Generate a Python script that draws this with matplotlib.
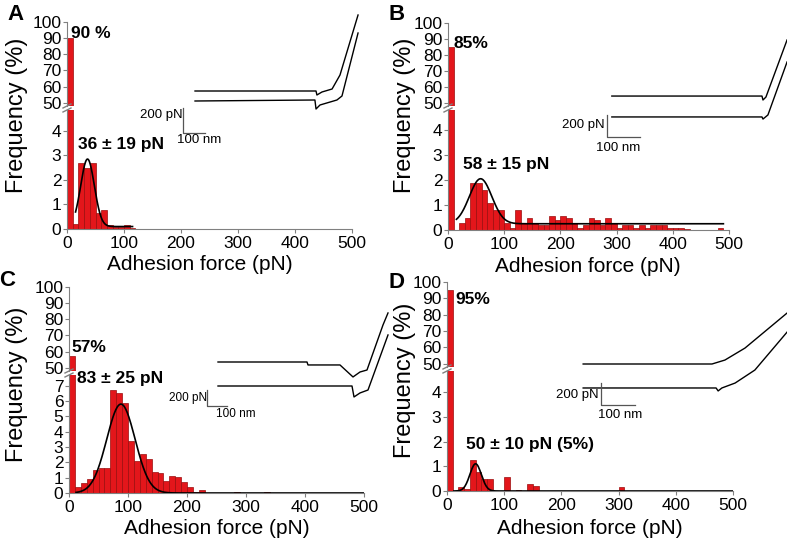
import numpy as np
import matplotlib
matplotlib.use('Agg')
import matplotlib.pyplot as plt

plt.rcParams['font.family'] = ['Liberation Sans', 'DejaVu Sans']

W, H = 787, 544
fig = plt.figure(figsize=(W / 100, H / 100), dpi=100)

# ---------------- data ----------------
BIN = 10  # pN bin width
# frequencies (%) per 10 pN bin, first bin = no adhesion
freq_A = [90, 0.2, 2.7, 2.5, 2.7, 0.65, 0.78, 0.15, 0.1, 0.1, 0.15, 0.05]
freq_B = [85, 0, 0.3, 0.47, 1.9, 1.9, 1.6, 1.1, 0.8, 0.8,
          0.3, 0.1, 0.8, 0.3, 0.5, 0.3, 0.2, 0.2, 0.56, 0.4,
          0.56, 0.47, 0.3, 0.1, 0.2, 0.47, 0.4, 0.2, 0.47, 0.3,
          0.1, 0.2, 0.2, 0.1, 0.2, 0.1, 0.2, 0.2, 0.2, 0.1,
          0.1, 0.1, 0.05, 0, 0, 0, 0, 0, 0.1]
freq_C = [57, 0.37, 0.65, 0.93, 1.48, 1.6, 1.6, 6.74, 6.5, 5.9,
          3.37, 2.06, 2.54, 2.2, 1.4, 1.3, 0.76, 1.1, 1.04, 0.7,
          0.37, 0.05, 0.17, 0.03, 0, 0, 0, 0, 0.05, 0,
          0, 0, 0, 0.05]
freq_D = [95, 0, 0.16, 0.1, 1.25, 0.77, 0.47, 0.47, 0, 0,
          0.57, 0, 0.05, 0, 0.27, 0.19, 0, 0, 0, 0,
          0, 0, 0, 0, 0, 0, 0, 0, 0, 0, 0.16]

# Gaussian fits: (offset, amplitude, mean, sigma, x_start, x_end)
fit_A = (0.1, 2.75, 36, 12, 15, 115)
fit_B = (0.25, 1.8, 58, 20, 15, 490)
fit_C = (0.0, 5.8, 88, 24, 12, 500)
fit_D = (0.0, 1.1, 50, 10, 12, 500)

label_pct = {'A': '90 %', 'B': '85%', 'C': '57%', 'D': '95%'}
label_fit = {'A': '36 ± 19 pN', 'B': '58 ± 15 pN', 'C': '83 ± 25 pN',
             'D': '50 ± 10 pN (5%)'}

xticks = [0, 100, 200, 300, 400, 500]
top_ticks = [50, 60, 70, 80, 90, 100]

# force-distance traces for insets (nm, pN)
A_up_nm = [91, 641, 645, 668, 714, 750, 832]
A_up_pN = [392, 392, 360, 384, 408, 520, 1000]
A_lo_nm = [91, 636, 641, 659, 736, 759, 832]
A_lo_pN = [312, 320, 248, 280, 320, 352, 856]

B_up_nm = [51, 506, 509, 518, 582]
B_up_pN = [445, 445, 409, 436, 955]
B_lo_nm = [51, 506, 509, 524, 582]
B_lo_pN = [255, 255, 236, 273, 755]

C_up_nm = [115, 560, 565, 725, 790, 825, 860, 940, 965]
C_up_pN = [725, 725, 688, 688, 538, 600, 625, 1188, 1338]
C_lo_nm = [115, 785, 795, 825, 865, 965]
C_lo_pN = [425, 425, 288, 338, 375, 1063]

D_up_nm = [24, 403, 441, 500, 624]
D_up_pN = [600, 600, 636, 745, 1064]
D_lo_nm = [24, 415, 421, 432, 471, 529, 624]
D_lo_pN = [382, 382, 355, 382, 427, 545, 891]

RED = '#e3161b'
EDGE = '#9a0d0d'
GREY = '#808080'


def ax_px(l, t, r, b):
    return fig.add_axes([l / W, 1 - b / H, (r - l) / W, (b - t) / H])


def ftext(x, y, s, **kw):
    fig.text(x / W, 1 - y / H, s, **kw)


def panel(letter, x0, x1, tt, tb, bt, bb, bot_max, bot_ticks, freq, fit,
          letter_xy, ylab_xy, xlab_xy, pct_xy, fit_xy, fit_size=12.5):
    axT = ax_px(x0, tt, x1, tb)
    axB = ax_px(x0, bt, x1, bb)
    edges = np.arange(len(freq)) * BIN
    for ax in (axT, axB):
        ax.bar(edges, freq, width=BIN, align='edge', color=RED,
               edgecolor=EDGE, linewidth=0.5, zorder=2)
        ax.set_xlim(0, 500)
        ax.patch.set_alpha(0)
        for s in ('top', 'right'):
            ax.spines[s].set_visible(False)
        ax.spines['left'].set_color(GREY)
        ax.spines['bottom'].set_color(GREY)
        ax.tick_params(axis='both', direction='out', length=3, width=0.8,
                       color=GREY, labelsize=12.5, pad=1)
    axT.spines['bottom'].set_visible(False)
    axT.set_xticks([])
    axT.set_ylim(48, 100)
    axT.set_yticks(top_ticks)
    axB.set_ylim(0, bot_max)
    axB.set_yticks(bot_ticks)
    axB.set_xticks(xticks)
    axB.tick_params(axis='x', pad=2)
    # fit
    off, amp, mu, sd, xs, xe = fit
    xx = np.linspace(xs, xe, 400)
    axB.plot(xx, off + amp * np.exp(-(xx - mu) ** 2 / (2 * sd ** 2)),
             color='black', lw=1.2, zorder=3)
    # break marks
    for yb in (tb, bt):
        fig.add_artist(plt.Line2D([(x0 - 4) / W, (x0 + 4) / W],
                                  [1 - (yb + 2) / H, 1 - (yb - 2) / H],
                                  color=GREY, lw=1))
    ftext(*letter_xy, letter, fontsize=16, fontweight='bold', ha='left', va='center')
    ftext(*ylab_xy, 'Frequency (%)', fontsize=17, rotation=90, ha='center', va='center')
    ftext(*xlab_xy, 'Adhesion force (pN)', fontsize=15, ha='center', va='center')
    ftext(*pct_xy, label_pct[letter], fontsize=12.5, fontweight='bold', ha='left', va='center')
    ftext(*fit_xy, label_fit[letter], fontsize=fit_size, fontweight='bold', ha='left', va='center')


panel('A', 67, 352, 22, 106, 110, 229, 4.85, [0, 1, 2, 3, 4], freq_A, fit_A,
      (7, 14), (17, 115), (200, 265), (71, 34), (78, 144))
panel('B', 448, 729, 23, 106, 110, 230, 4.8, [0, 1, 2, 3, 4], freq_B, fit_B,
      (389, 14), (405, 115), (588, 266), (453, 43), (463, 164))
panel('C', 69, 364, 287, 371, 375, 493, 7.7, [0, 1, 2, 3, 4, 5, 6, 7], freq_C, fit_C,
      (-1, 281), (17, 384), (217, 529), (71, 347), (77, 378))
panel('D', 447, 733, 282, 367, 371, 491, 4.85, [0, 1, 2, 3, 4], freq_D, fit_D,
      (388, 283), (405, 380), (590, 529), (455, 300), (466, 445))


def inset(l, t, w, h, px_nm, px_pN, up, lo, bar_x, bar_y, fs,
          lab200_xy, lab100_xy):
    ax = ax_px(l, t, l + w, t + h)
    ax.set_xlim(0, w / px_nm)
    ax.set_ylim(0, h / px_pN)
    ax.axis('off')
    ax.plot(up[0], up[1], color='black', lw=1.0, clip_on=False)
    ax.plot(lo[0], lo[1], color='black', lw=1.0, clip_on=False)
    ax.plot([bar_x, bar_x, bar_x + 100], [bar_y + 200, bar_y, bar_y],
            color='#555555', lw=0.9, clip_on=False)
    ax.text(*lab200_xy, '200 pN', fontsize=fs, ha='right', va='center', clip_on=False)
    ax.text(*lab100_xy, '100 nm', fontsize=fs, ha='center', va='center', clip_on=False)


inset(175, 10, 190, 130, 0.22, 0.125, (A_up_nm, A_up_pN), (A_lo_nm, A_lo_pN),
      36, 56, 9.5, (36, 200), (110, 0))
inset(595, 30, 192, 115, 0.33, 0.11, (B_up_nm, B_up_pN), (B_lo_nm, B_lo_pN),
      36, 73, 9.5, (30, 182), (70, -27))
inset(195, 300, 200, 120, 0.2, 0.08, (C_up_nm, C_up_pN), (C_lo_nm, C_lo_pN),
      60, 175, 8.5, (62, 275), (205, 75))
inset(575, 300, 212, 130, 0.34, 0.11, (D_up_nm, D_up_pN), (D_lo_nm, D_lo_pN),
      76, 227, 9.5, (70, 318), (132, 136))

fig.savefig('out.png', dpi=100)
